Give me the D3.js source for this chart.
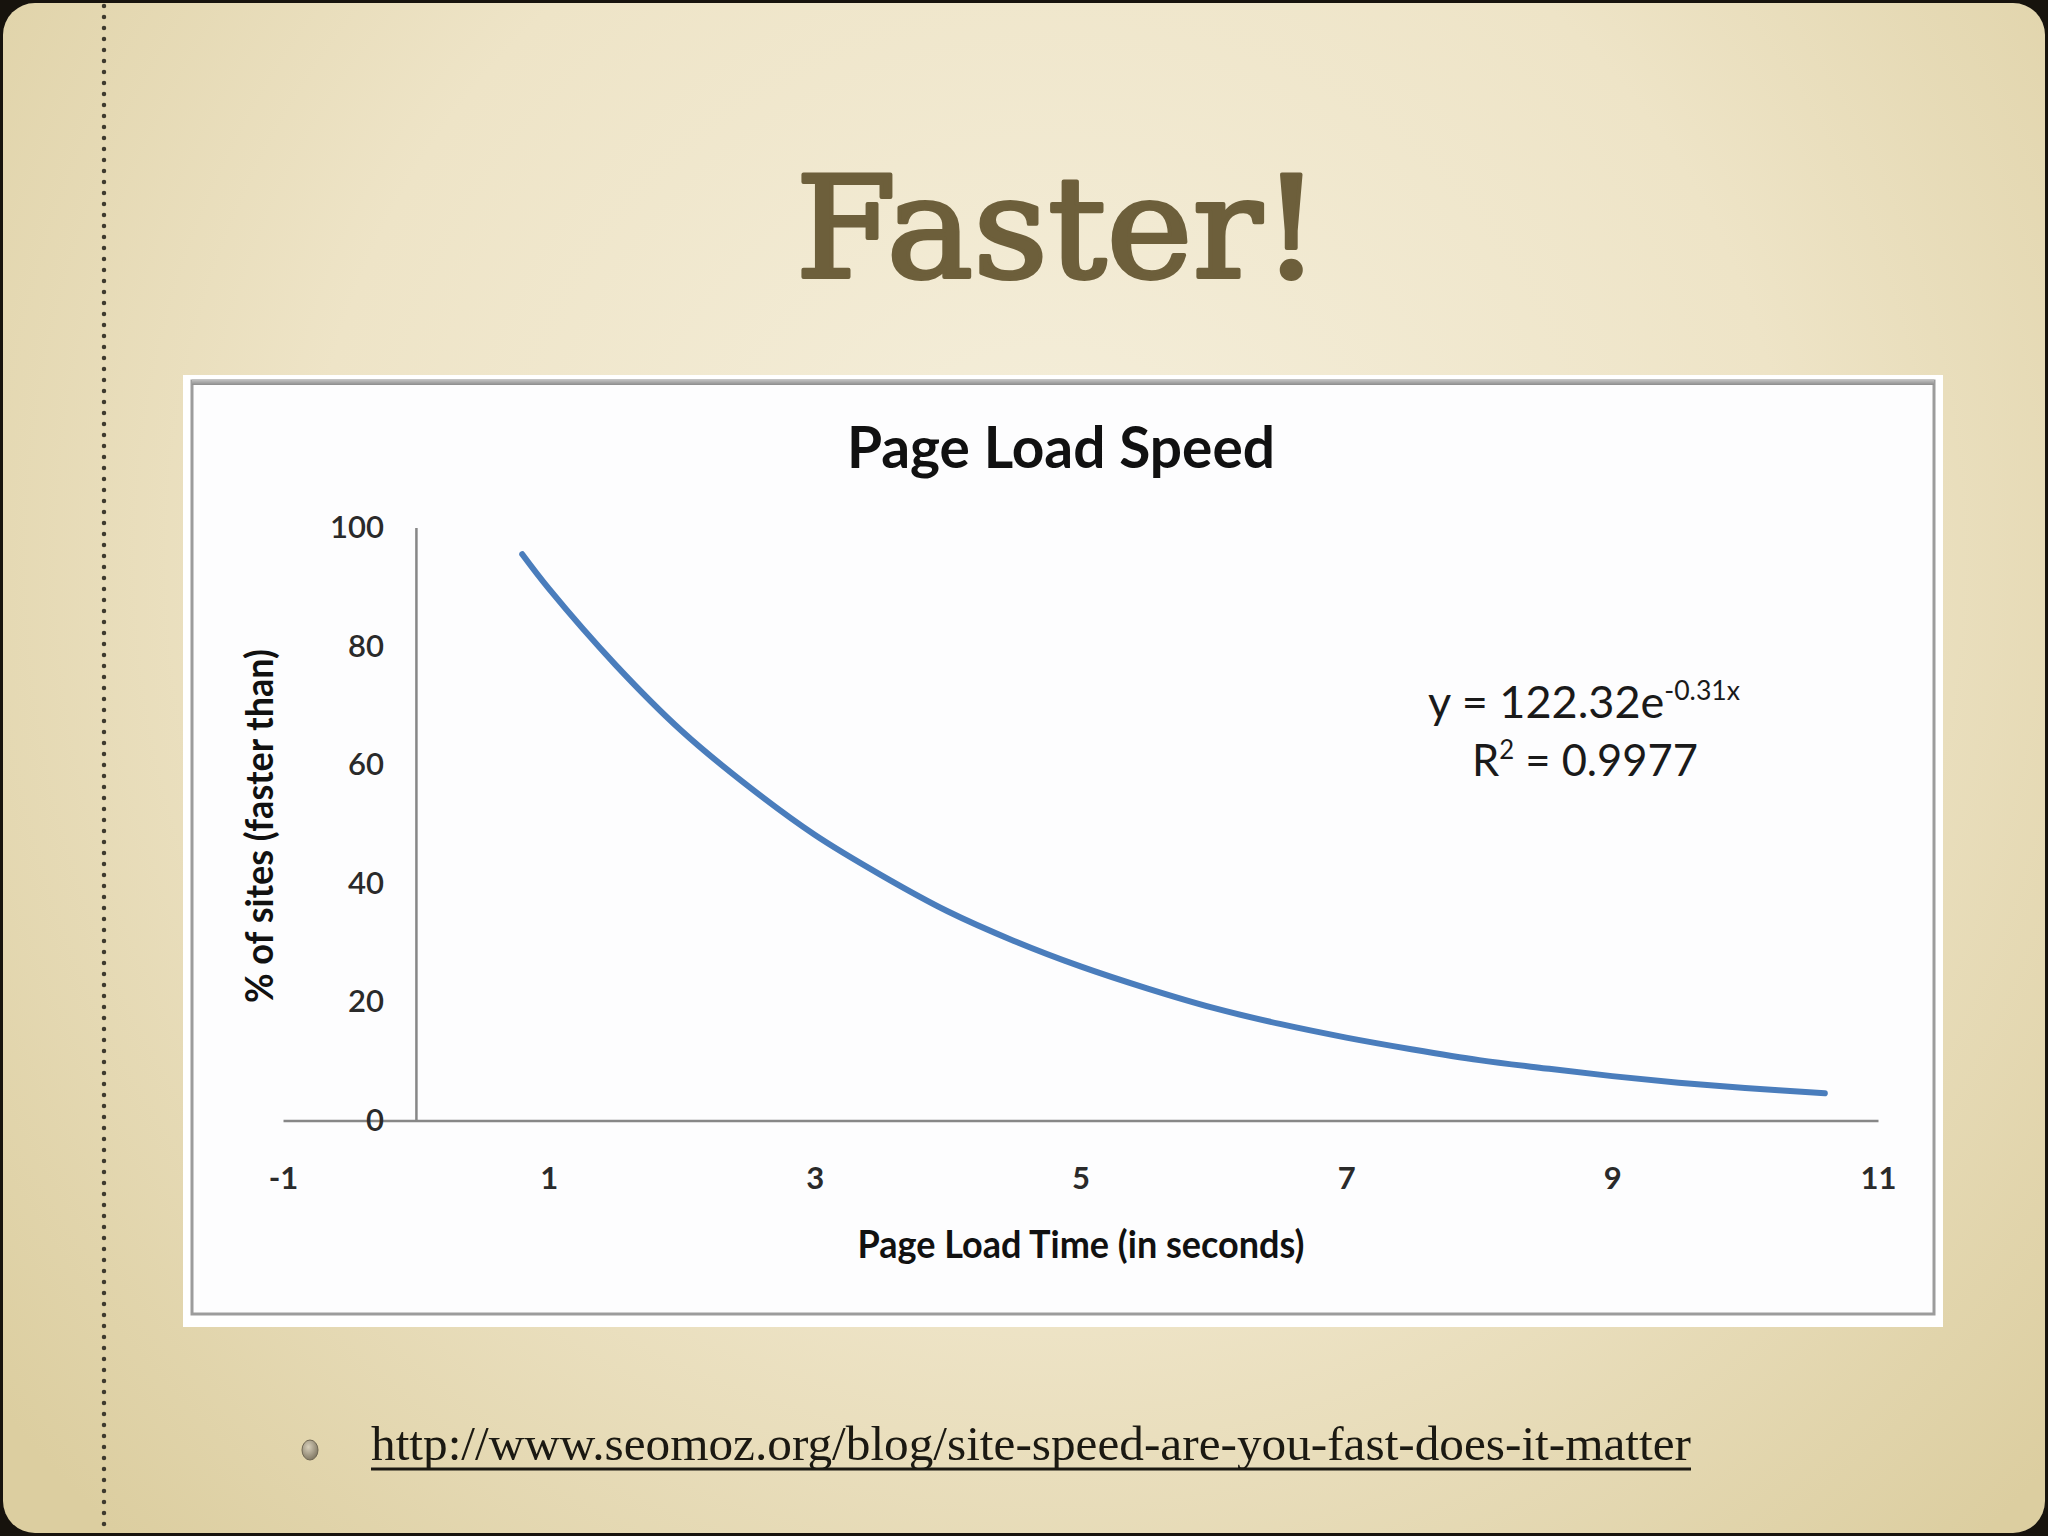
<!DOCTYPE html>
<html>
<head>
<meta charset="utf-8">
<script src="https://cdn.jsdelivr.net/npm/d3@7"></script>
<style>
  html, body { margin: 0; padding: 0; background: #17130d; }
  svg { display: block; }
</style>
</head>
<body>
<script>
// ---- data ----
const timeSec  = [0.8, 1, 1.5, 2, 2.5, 3, 3.5, 4, 4.5, 5, 5.5, 6, 6.5, 7, 7.5, 8, 8.5, 9, 9.5, 10, 10.6];
const pctSites = [95.5, 89.7, 76.9, 65.7, 56.4, 48.2, 41.4, 35.3, 30.3, 26.0, 22.3, 19.0, 16.3, 14.0, 12.0, 10.2, 8.8, 7.5, 6.4, 5.5, 4.6];
const xTicks = [-1, 1, 3, 5, 7, 9, 11];
const yTicks = [0, 20, 40, 60, 80, 100];
const slideTitle = "Faster!";
const chartTitle = "Page Load Speed";
const xTitle = "Page Load Time (in seconds)";
const yTitle = "% of sites (faster than)";
const eqMain = "y = 122.32e";
const eqSup = "-0.31x";
const r2Text = ["R", "2", " = 0.9977"];
const linkText = "http://www.seomoz.org/blog/site-speed-are-you-fast-does-it-matter";

const W = 2048, H = 1536;
const svg = d3.select("body").append("svg").attr("width", W).attr("height", H);
const defs = svg.append("defs");

// slide background gradient
const rg = defs.append("radialGradient").attr("id", "paper")
  .attr("gradientUnits", "userSpaceOnUse")
  .attr("cx", 1050).attr("cy", 560).attr("r", 1350);
rg.append("stop").attr("offset", 0).attr("stop-color", "#f5efdc");
rg.append("stop").attr("offset", 0.55).attr("stop-color", "#eee4c7");
rg.append("stop").attr("offset", 1).attr("stop-color", "#dccea0");

const bg = defs.append("radialGradient").attr("id", "bullet")
  .attr("cx", 0.4).attr("cy", 0.35).attr("r", 0.7);
bg.append("stop").attr("offset", 0).attr("stop-color", "#d8d0bb");
bg.append("stop").attr("offset", 1).attr("stop-color", "#7c735f");

const fr = defs.append("linearGradient").attr("id", "frameTop").attr("x1", 0).attr("y1", 0).attr("x2", 0).attr("y2", 1);
fr.append("stop").attr("offset", 0).attr("stop-color", "#c8c8c8");
fr.append("stop").attr("offset", 1).attr("stop-color", "#8c8c8c");

svg.append("rect").attr("x", 3).attr("y", 3).attr("width", W - 6).attr("height", H - 6)
  .attr("rx", 32).attr("fill", "url(#paper)");

// dotted margin line
svg.append("line").attr("x1", 104).attr("x2", 104).attr("y1", 6).attr("y2", H - 4)
  .attr("stroke", "#3e3a2e").attr("stroke-width", 4.5)
  .attr("stroke-linecap", "round").attr("stroke-dasharray", "0 11");

// slide title
svg.append("text").attr("x", 1058).attr("y", 277)
  .attr("text-anchor", "middle")
  .attr("font-family", "'DejaVu Serif', serif")
  .attr("font-weight", 400)
  .attr("font-size", 140)
  .attr("fill", "#6d5f3b")
  .attr("stroke", "#6d5f3b").attr("stroke-width", 4).attr("stroke-linejoin", "round")
  .attr("textLength", 525).attr("lengthAdjust", "spacingAndGlyphs")
  .text(slideTitle);

// chart image box
svg.append("rect").attr("x", 183).attr("y", 375).attr("width", 1760).attr("height", 952).attr("fill", "#ffffff");
svg.append("rect").attr("x", 192).attr("y", 381).attr("width", 1742).attr("height", 933)
  .attr("fill", "#fdfdfe").attr("stroke", "#9c9c9c").attr("stroke-width", 3);
svg.append("rect").attr("x", 192).attr("y", 379).attr("width", 1742).attr("height", 6).attr("fill", "url(#frameTop)");

// scales
const x = d3.scaleLinear().domain([-1, 11]).range([283, 1878]);
const y = d3.scaleLinear().domain([0, 100]).range([1120.6, 527.6]);

const font = "Lato, 'Open Sans', sans-serif";

// chart title
svg.append("text").attr("x", 1061).attr("y", 468).attr("text-anchor", "middle")
  .attr("font-family", font).attr("font-weight", 700).attr("font-size", 58)
  .attr("fill", "#111").attr("textLength", 428).attr("lengthAdjust", "spacingAndGlyphs")
  .text(chartTitle);

// x axis
const xAxisG = svg.append("g").attr("transform", `translate(0,${y(0)})`)
  .call(d3.axisBottom(x).tickValues(xTicks).tickSize(0).tickSizeOuter(0).tickFormat(d => String(d)));
xAxisG.select(".domain").attr("stroke", "#878787").attr("stroke-width", 2.5);
xAxisG.selectAll(".tick text")
  .attr("y", 57).attr("dy", "0.36em")
  .attr("font-family", font).attr("font-weight", 700).attr("font-size", 31).attr("fill", "#2a2a2a");

// y axis
const yAxisG = svg.append("g").attr("transform", `translate(${x(0)},0)`)
  .call(d3.axisLeft(y).tickValues(yTicks).tickSize(0).tickSizeOuter(0).tickPadding(32).tickFormat(d => String(d)));
yAxisG.select(".domain").attr("stroke", "#878787").attr("stroke-width", 2.5);
yAxisG.selectAll(".tick text")
  .attr("font-family", font).attr("font-weight", 600).attr("font-size", 31).attr("fill", "#2a2a2a");

// axis titles
svg.append("text").attr("x", 1081).attr("y", 1258).attr("text-anchor", "middle")
  .attr("font-family", font).attr("font-weight", 700).attr("font-size", 38).attr("fill", "#111")
  .attr("textLength", 447).attr("lengthAdjust", "spacingAndGlyphs")
  .text(xTitle);
svg.append("text").attr("transform", "translate(273,826) rotate(-90)").attr("text-anchor", "middle")
  .attr("font-family", font).attr("font-weight", 700).attr("font-size", 38).attr("fill", "#111")
  .attr("textLength", 354).attr("lengthAdjust", "spacingAndGlyphs")
  .text(yTitle);

// curve
const line = d3.line().x((d, i) => x(timeSec[i])).y(d => y(d)).curve(d3.curveCatmullRom);
svg.append("path").datum(pctSites).attr("d", line)
  .attr("fill", "none").attr("stroke", "#4a7dbc").attr("stroke-width", 6)
  .attr("stroke-linecap", "round");

// trendline equation
const eq = svg.append("text").attr("x", 1428).attr("y", 718)
  .attr("font-family", font).attr("font-size", 44).attr("fill", "#1a1a1a")
  .attr("textLength", 312).attr("lengthAdjust", "spacingAndGlyphs");
eq.append("tspan").text(eqMain);
eq.append("tspan").attr("dy", -18).attr("font-size", 26).text(eqSup);

const r2 = svg.append("text").attr("x", 1472).attr("y", 776)
  .attr("font-family", font).attr("font-size", 44).attr("fill", "#1a1a1a")
  .attr("textLength", 226).attr("lengthAdjust", "spacingAndGlyphs");
r2.append("tspan").text(r2Text[0]);
r2.append("tspan").attr("dy", -17).attr("font-size", 26).text(r2Text[1]);
r2.append("tspan").attr("dy", 17).text(r2Text[2]);

// bullet + link
svg.append("ellipse").attr("cx", 310).attr("cy", 1450).attr("rx", 8).attr("ry", 10)
  .attr("fill", "url(#bullet)").attr("stroke", "#6e6653").attr("stroke-width", 1);
svg.append("text").attr("x", 371).attr("y", 1460)
  .attr("font-family", "'Liberation Serif', 'DejaVu Serif', serif").attr("font-size", 48)
  .attr("fill", "#1b1912").attr("textLength", 1320).attr("lengthAdjust", "spacingAndGlyphs")
  .text(linkText);
svg.append("line").attr("x1", 371).attr("x2", 1691).attr("y1", 1469).attr("y2", 1469)
  .attr("stroke", "#1b1912").attr("stroke-width", 3);
</script>
</body>
</html>
